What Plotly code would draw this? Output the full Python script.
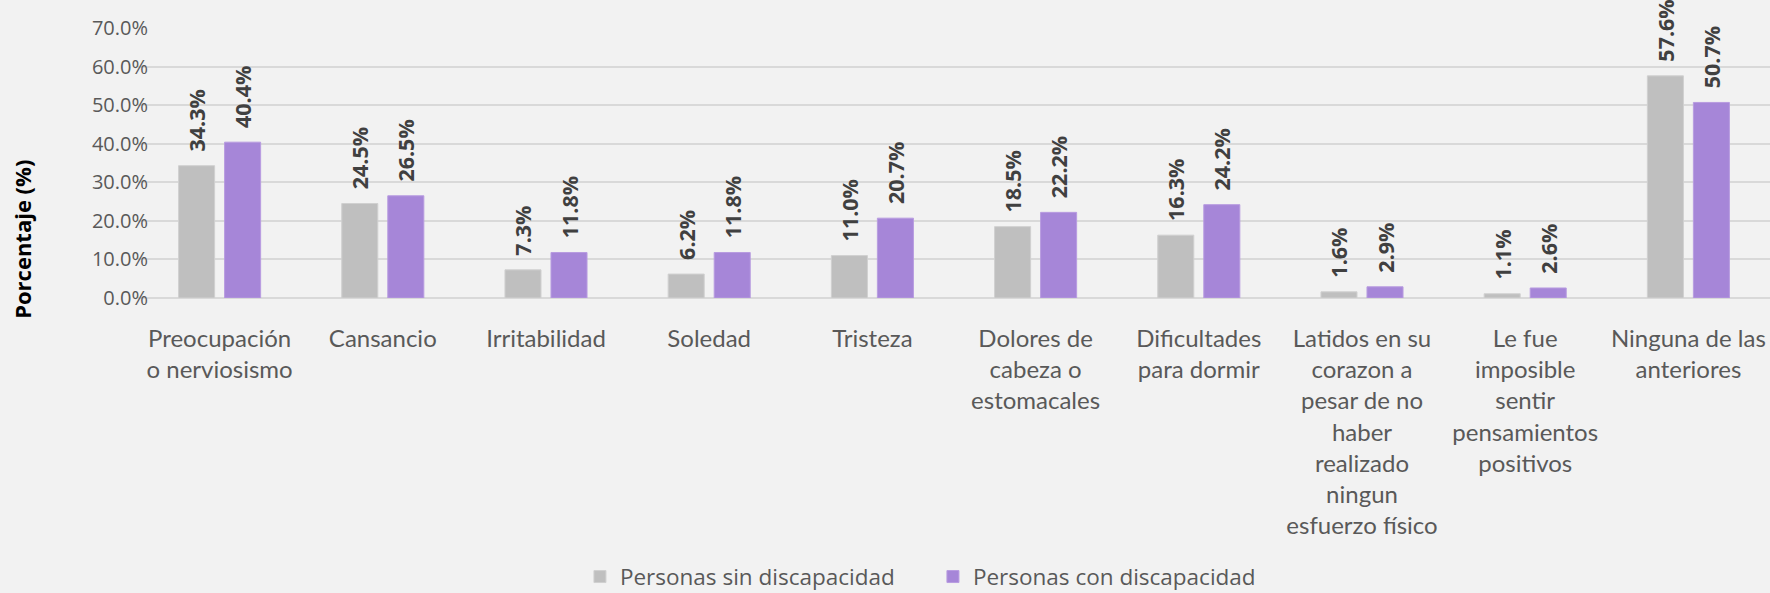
import plotly.graph_objects as go

categories = [
    "Preocupación<br>o nerviosismo", "Cansancio", "Irritabilidad", "Soledad", "Tristeza",
    "Dolores de<br>cabeza o<br>estomacales", "Dificultades<br>para dormir",
    "Latidos en su<br>corazon a<br>pesar de no<br>haber<br>realizado<br>ningun<br>esfuerzo físico",
    "Le fue<br>imposible<br>sentir<br>pensamientos<br>positivos", "Ninguna de las<br>anteriores",
]
sin_discapacidad = [34.3, 24.5, 7.3, 6.2, 11.0, 18.5, 16.3, 1.6, 1.1, 57.6]
con_discapacidad = [40.4, 26.5, 11.8, 11.8, 20.7, 22.2, 24.2, 2.9, 2.6, 50.7]
y_ticks = [0, 10, 20, 30, 40, 50, 60, 70]

FONT = "Open Sans"
lbl_font = dict(family=FONT, size=21.5, color="#404040", weight="bold")

fig = go.Figure()
fig.add_bar(name="Personas sin discapacidad", x=categories, y=sin_discapacidad,
            marker=dict(color="#BFBFBF", line=dict(color="#D0D0D0", width=1)),
            texttemplate="\u00a0\u00a0%{y:.1f}%", textposition="outside",
            textangle=-90, textfont=lbl_font, cliponaxis=False, constraintext="none")
fig.add_bar(name="Personas con discapacidad", x=categories, y=con_discapacidad,
            marker=dict(color="#A686D8", line=dict(color="#B89CE0", width=1)),
            texttemplate="\u00a0\u00a0%{y:.1f}%", textposition="outside",
            textangle=-90, textfont=lbl_font, cliponaxis=False, constraintext="none")

fig.update_layout(
    width=1770, height=593,
    paper_bgcolor="#F2F2F2", plot_bgcolor="#F2F2F2",
    barmode="group", bargap=0.436, bargroupgap=0.217,
    margin=dict(l=138, r=0, t=28, b=295, autoexpand=False),
    font=dict(family=FONT, color="#595959"),
    legend=dict(orientation="h", x=0.2708, xanchor="left", y=-1.033, yanchor="middle",
                entrywidth=308, entrywidthmode="pixels",
                font=dict(family=FONT, size=22.5, color="#595959")),
    showlegend=True,
)
fig.add_annotation(text="<b>Porcentaje (%)</b>", xref="paper", yref="paper",
                   x=-0.0711, y=0.219, xanchor="center", yanchor="middle", textangle=-90,
                   showarrow=False, font=dict(family=FONT, size=22, color="#000000"))
fig.update_xaxes(tickfont=dict(family="Lato", size=24, color="#595959"), showline=False,
                 ticks="", tickangle=0, ticklabelstandoff=24, automargin=False)
fig.update_yaxes(range=[0, 70], tickvals=y_ticks, ticktext=[f"{v:.1f}%" for v in y_ticks],
                 tickfont=dict(family=FONT, size=20, color="#595959"),
                 gridcolor="#D9D9D9", gridwidth=1.5, zeroline=True, zerolinecolor="#D9D9D9",
                 zerolinewidth=1.5, ticklabelstandoff=-11, automargin=False)

fig.write_html("out.html", config={"displayModeBar": False},
               post_script="document.body.style.margin='0';")
